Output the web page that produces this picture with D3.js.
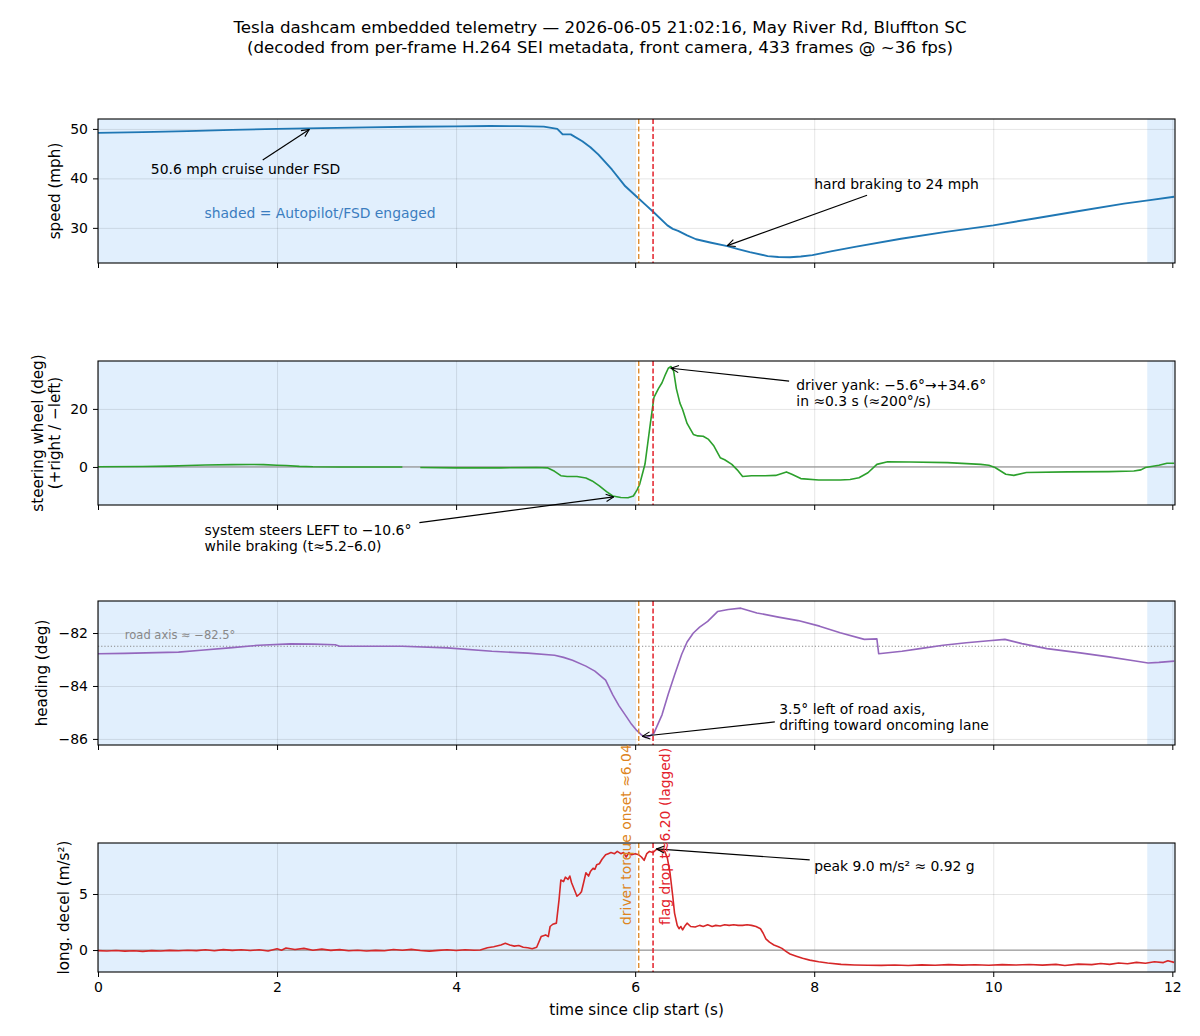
<!DOCTYPE html>
<html>
<head>
<meta charset="utf-8">
<script src="https://cdn.jsdelivr.net/npm/d3@7/dist/d3.min.js"></script>
<style>
  body { margin: 0; background: #fff; }
  svg { font-family: "DejaVu Sans", sans-serif; }
</style>
</head>
<body>
<div id="chart"></div>
<script>
// ---- data ----
var xTicks = [0, 2, 4, 6, 8, 10, 12];

// [time (s), speed (mph)]
var speedData = [
  [0, 49.2], [0.5, 49.35], [1.0, 49.55], [1.5, 49.8], [2.0, 50.0], [2.5, 50.15],
  [3.0, 50.3], [3.5, 50.42], [4.0, 50.5], [4.38, 50.6], [4.7, 50.55], [4.98, 50.45],
  [5.13, 50.0], [5.19, 48.9], [5.28, 48.9], [5.41, 47.5], [5.5, 46.3], [5.59, 44.8],
  [5.74, 41.8], [5.89, 38.4], [6.03, 36.1], [6.12, 34.6], [6.21, 33.1], [6.36, 30.5],
  [6.42, 29.8], [6.48, 29.4], [6.58, 28.5], [6.68, 27.7], [6.85, 27.0], [7.03, 26.3],
  [7.15, 25.7], [7.28, 25.1], [7.48, 24.3], [7.6, 24.1], [7.73, 24.05], [7.85, 24.2],
  [7.98, 24.5], [8.2, 25.3], [8.47, 26.2], [8.97, 27.8], [9.47, 29.2], [10.0, 30.5],
  [10.46, 31.9], [10.96, 33.4], [11.46, 34.9], [11.75, 35.6], [12.02, 36.3]
];

// [time, steering wheel angle (deg)] -- null = dropped frames
var steerData = [
  [0, 0.1], [0.5, 0.15], [0.8, 0.3], [1.0, 0.5], [1.2, 0.7], [1.5, 0.8], [1.7, 0.85],
  [1.85, 0.8], [2.0, 0.6], [2.1, 0.5], [2.25, 0.2], [2.4, 0.05], [2.7, 0], [3.0, 0],
  [3.4, 0], [3.5, null], [3.6, -0.2], [4.0, -0.3], [4.5, -0.3], [4.9, -0.2], [5.02, -0.3],
  [5.1, -1.5], [5.17, -3.0], [5.24, -3.3], [5.35, -3.3], [5.45, -3.8], [5.52, -4.8],
  [5.6, -6.5], [5.68, -8.5], [5.75, -10.0], [5.84, -10.5], [5.92, -10.6], [5.98, -10.0],
  [6.02, -8.0], [6.05, -6.0], [6.08, -2.5], [6.11, 1.0], [6.14, 8], [6.17, 15], [6.21, 24],
  [6.26, 27], [6.3, 29], [6.34, 32], [6.37, 34], [6.4, 34.6], [6.43, 33], [6.46, 27],
  [6.5, 22], [6.53, 19.8], [6.58, 15], [6.65, 11.2], [6.7, 10.7], [6.76, 10.6], [6.82, 9.5],
  [6.88, 7.2], [6.95, 3.2], [7.0, 2.5], [7.08, 0.9], [7.14, -1], [7.2, -3.3], [7.3, -3.0],
  [7.45, -3.0], [7.57, -2.9], [7.63, -2.3], [7.69, -1.7], [7.75, -2.5], [7.85, -4.0],
  [8.05, -4.5], [8.29, -4.5], [8.4, -4.3], [8.5, -3.7], [8.6, -2], [8.7, 0.9], [8.82, 1.8],
  [9.07, 1.7], [9.49, 1.5], [9.86, 0.9], [9.95, 0.6], [10.02, -0.2], [10.14, -2.5],
  [10.23, -2.9], [10.37, -1.9], [10.83, -1.7], [11.29, -1.6], [11.57, -1.4], [11.65, -1.0],
  [11.7, -0.2], [11.85, 0.6], [11.94, 1.3], [12.02, 1.3]
];

// [time, heading (deg)]
var headingData = [
  [0, -82.78], [0.3, -82.77], [0.65, -82.74], [0.9, -82.72], [1.15, -82.65], [1.5, -82.55],
  [1.8, -82.46], [2.15, -82.41], [2.4, -82.42], [2.65, -82.44], [2.7, -82.5], [3.0, -82.5],
  [3.4, -82.5], [3.9, -82.56], [4.4, -82.69], [4.8, -82.76], [5.1, -82.84], [5.2, -82.92],
  [5.3, -83.03], [5.45, -83.25], [5.55, -83.44], [5.67, -83.78], [5.75, -84.34],
  [5.82, -84.75], [5.9, -85.15], [5.96, -85.45], [6.02, -85.69], [6.07, -85.85],
  [6.12, -85.95], [6.16, -85.9], [6.21, -85.78], [6.3, -85.09], [6.37, -84.3],
  [6.44, -83.59], [6.52, -82.8], [6.58, -82.34], [6.65, -82.0], [6.72, -81.78],
  [6.81, -81.56], [6.92, -81.19], [7.04, -81.11], [7.18, -81.06], [7.36, -81.24],
  [7.6, -81.4], [7.82, -81.53], [8.06, -81.74], [8.29, -81.99], [8.56, -82.24],
  [8.7, -82.22], [8.72, -82.78], [8.98, -82.69], [9.2, -82.58], [9.44, -82.46],
  [9.7, -82.37], [9.95, -82.29], [10.13, -82.24], [10.32, -82.4], [10.6, -82.59],
  [10.97, -82.75], [11.29, -82.9], [11.57, -83.05], [11.73, -83.13], [11.85, -83.11],
  [12.02, -83.06]
];

// [time, longitudinal deceleration (m/s^2)]
var decelData = [
  [0, -0.05], [0.1, -0.08], [0.2, -0.04], [0.3, -0.1], [0.4, -0.06], [0.5, -0.12],
  [0.6, -0.05], [0.7, -0.09], [0.8, -0.03], [0.9, -0.07], [1.0, -0.02], [1.1, -0.05],
  [1.2, 0.02], [1.3, -0.06], [1.4, 0.04], [1.5, -0.03], [1.6, 0.03], [1.7, -0.04],
  [1.8, 0.02], [1.9, -0.08], [2.0, 0.12], [2.05, -0.02], [2.1, 0.18], [2.2, 0.05],
  [2.3, 0.15], [2.4, -0.02], [2.5, 0.08], [2.6, -0.03], [2.7, 0.04], [2.8, -0.06],
  [2.9, -0.02], [3.0, -0.08], [3.1, -0.03], [3.2, -0.07], [3.3, 0.05], [3.4, -0.02],
  [3.5, 0.06], [3.6, -0.04], [3.7, -0.1], [3.8, -0.03], [3.9, 0.02], [4.0, -0.04],
  [4.1, 0.03], [4.2, -0.02], [4.27, 0.0], [4.35, 0.2], [4.42, 0.3], [4.5, 0.45],
  [4.55, 0.6], [4.6, 0.45], [4.65, 0.35], [4.7, 0.4], [4.75, 0.25], [4.8, 0.2],
  [4.85, 0.12], [4.9, 0.25], [4.95, 1.2], [5.0, 1.35], [5.03, 1.2], [5.05, 2.1],
  [5.08, 2.3], [5.12, 2.4], [5.15, 4.5], [5.17, 6.25], [5.2, 6.1], [5.22, 6.5],
  [5.25, 6.3], [5.27, 6.6], [5.29, 6.0], [5.32, 5.4], [5.35, 4.8], [5.38, 5.0],
  [5.4, 5.2], [5.43, 6.2], [5.45, 6.9], [5.48, 6.6], [5.5, 7.0], [5.53, 7.3],
  [5.55, 7.2], [5.57, 7.6], [5.6, 7.7], [5.63, 8.1], [5.67, 8.5], [5.7, 8.6],
  [5.73, 8.7], [5.77, 8.6], [5.8, 8.8], [5.84, 8.6], [5.87, 8.7], [5.9, 8.3],
  [5.93, 8.7], [5.96, 8.5], [6.0, 8.6], [6.04, 8.5], [6.07, 8.3], [6.1, 8.0],
  [6.13, 8.6], [6.16, 8.8], [6.2, 8.7], [6.24, 9.0], [6.28, 8.9], [6.33, 8.8],
  [6.36, 8.2], [6.39, 6.85], [6.42, 4.8], [6.44, 3.3], [6.47, 2.2], [6.49, 1.9],
  [6.51, 2.1], [6.53, 1.8], [6.56, 2.2], [6.58, 2.4], [6.62, 2.1], [6.67, 2.05],
  [6.72, 2.2], [6.76, 2.1], [6.81, 2.25], [6.86, 2.1], [6.9, 2.2], [6.95, 2.15],
  [7.0, 2.25], [7.05, 2.2], [7.1, 2.25], [7.15, 2.2], [7.2, 2.2], [7.25, 2.25],
  [7.3, 2.2], [7.35, 2.1], [7.4, 1.9], [7.43, 1.5], [7.46, 1.0], [7.5, 0.7],
  [7.55, 0.45], [7.6, 0.3], [7.64, 0.15], [7.68, -0.1], [7.73, -0.35], [7.8, -0.55],
  [7.87, -0.74], [7.95, -0.9], [8.05, -1.04], [8.15, -1.15], [8.3, -1.28], [8.45, -1.33],
  [8.6, -1.36], [8.75, -1.37], [8.9, -1.33], [9.05, -1.38], [9.2, -1.32], [9.35, -1.36],
  [9.5, -1.3], [9.65, -1.35], [9.8, -1.31], [9.95, -1.36], [10.1, -1.3], [10.25, -1.34],
  [10.4, -1.29], [10.55, -1.35], [10.7, -1.28], [10.8, -1.38], [10.95, -1.26], [11.1, -1.3],
  [11.2, -1.2], [11.3, -1.28], [11.4, -1.15], [11.5, -1.22], [11.6, -1.1], [11.7, -1.18],
  [11.8, -1.05], [11.9, -1.12], [11.95, -0.95], [12.02, -1.1]
];

// Autopilot/FSD engaged spans (s)
var fsdSpans = [[0, 6.0], [11.72, 12.03]];
var driverOnset = 6.04;
var flagDrop = 6.20;
var roadAxis = -82.5;

// ---- layout ----
var W = 1200, H = 1036;
var left = 98, right = 1175;
var tickFont = 14, labelFont = 15.2, noteFont = 13.9;

var panels = [
  { data: speedData, color: "#1f77b4", top: 119, bottom: 263, domain: [22.9, 52.0],
    ticks: [30, 40, 50], label: ["speed (mph)"], labelX: 55 },
  { data: steerData, color: "#2ca02c", top: 361, bottom: 505, domain: [-13.1, 36.5],
    ticks: [0, 20], label: ["steering wheel (deg)", "(+right / \u2212left)"], labelX: 46, zero: true },
  { data: headingData, color: "#9467bd", top: 601, bottom: 745, domain: [-86.23, -80.79],
    ticks: [-86, -84, -82], label: ["heading (deg)"], labelX: 42 },
  { data: decelData, color: "#d62728", top: 843, bottom: 972, domain: [-1.96, 9.55],
    ticks: [0, 5], label: ["long. decel (m/s\u00b2)"], labelX: 64, zero: true }
];

var svg = d3.select("#chart").append("svg")
  .attr("width", W)
  .attr("height", H);

// arrowhead like matplotlib "->"
svg.append("defs").append("marker")
  .attr("id", "arrow")
  .attr("viewBox", "0 0 10 10")
  .attr("refX", 9.5).attr("refY", 5)
  .attr("markerWidth", 9).attr("markerHeight", 9)
  .attr("markerUnits", "userSpaceOnUse")
  .attr("orient", "auto")
  .append("path")
  .attr("d", "M1,1 L9.5,5 L1,9")
  .attr("fill", "none")
  .attr("stroke", "#000")
  .attr("stroke-width", 1.2);

// title
svg.append("text")
  .attr("x", 600).attr("y", 33)
  .attr("text-anchor", "middle")
  .attr("font-size", 16.7)
  .text("Tesla dashcam embedded telemetry \u2014 2026-06-05 21:02:16, May River Rd, Bluffton SC");
svg.append("text")
  .attr("x", 600).attr("y", 53)
  .attr("text-anchor", "middle")
  .attr("font-size", 16.7)
  .text("(decoded from per-frame H.264 SEI metadata, front camera, 433 frames @ ~36 fps)");

var x = d3.scaleLinear().domain([0, 12.03]).range([left, right]);

panels.forEach(function(p, i) {
  var y = d3.scaleLinear().domain(p.domain).range([p.bottom, p.top]);
  p.y = y;
  var g = svg.append("g");

  g.append("clipPath").attr("id", "clip" + i)
    .append("rect")
    .attr("x", left).attr("y", p.top)
    .attr("width", right - left).attr("height", p.bottom - p.top);

  // shaded FSD spans
  g.selectAll("rect.fsd")
    .data(fsdSpans)
    .join("rect")
    .attr("class", "fsd")
    .attr("x", d => x(d[0]))
    .attr("width", d => x(Math.min(d[1], 12.03)) - x(d[0]))
    .attr("y", p.top)
    .attr("height", p.bottom - p.top)
    .attr("fill", "#e1effd");

  // grid
  g.append("g")
    .attr("transform", "translate(0," + p.bottom + ")")
    .call(d3.axisBottom(x).tickValues(xTicks).tickSize(-(p.bottom - p.top)).tickFormat(""))
    .call(a => a.select(".domain").remove())
    .selectAll("line").attr("stroke", "#000").attr("stroke-opacity", 0.1);
  g.append("g")
    .attr("transform", "translate(" + left + ",0)")
    .call(d3.axisLeft(y).tickValues(p.ticks).tickSize(-(right - left)).tickFormat(""))
    .call(a => a.select(".domain").remove())
    .selectAll("line").attr("stroke", "#000").attr("stroke-opacity", 0.1);

  if (p.zero) {
    g.append("line")
      .attr("x1", left).attr("x2", right)
      .attr("y1", y(0)).attr("y2", y(0))
      .attr("stroke", "#999").attr("stroke-width", 1.2);
  }
  if (i === 2) {
    g.append("line")
      .attr("x1", left).attr("x2", right)
      .attr("y1", y(roadAxis)).attr("y2", y(roadAxis))
      .attr("stroke", "#888").attr("stroke-width", 1)
      .attr("stroke-dasharray", "1.2,2");
    g.append("text")
      .attr("x", x(0.3)).attr("y", y(-82.08))
      .attr("dominant-baseline", "central")
      .attr("font-size", 11.5)
      .attr("fill", "#888")
      .text("road axis \u2248 \u221282.5\u00b0");
  }

  // series
  var line = d3.line()
    .defined(d => d[1] !== null)
    .x(d => x(d[0]))
    .y(d => y(d[1]));
  g.append("path")
    .datum(p.data)
    .attr("clip-path", "url(#clip" + i + ")")
    .attr("fill", "none")
    .attr("stroke", p.color)
    .attr("stroke-width", i === 0 ? 1.9 : 1.6)
    .attr("stroke-linejoin", "round")
    .attr("d", line);

  // event markers
  g.append("line")
    .attr("x1", x(driverOnset)).attr("x2", x(driverOnset))
    .attr("y1", p.top).attr("y2", p.bottom)
    .attr("stroke", "#dd8420").attr("stroke-width", 1.3)
    .attr("stroke-dasharray", "5,2.5");
  g.append("line")
    .attr("x1", x(flagDrop)).attr("x2", x(flagDrop))
    .attr("y1", p.top).attr("y2", p.bottom)
    .attr("stroke", "#e3212b").attr("stroke-width", 1.5)
    .attr("stroke-dasharray", "5,2.5");

  // frame
  g.append("rect")
    .attr("x", left).attr("y", p.top)
    .attr("width", right - left).attr("height", p.bottom - p.top)
    .attr("fill", "none").attr("stroke", "#000").attr("stroke-width", 1.1);

  // axes
  var xa = g.append("g")
    .attr("transform", "translate(0," + p.bottom + ")")
    .call(d3.axisBottom(x).tickValues(xTicks).tickSize(5).tickPadding(5)
      .tickFormat(i === panels.length - 1 ? d3.format("d") : ""));
  var ya = g.append("g")
    .attr("transform", "translate(" + left + ",0)")
    .call(d3.axisLeft(y).tickValues(p.ticks).tickSize(5).tickPadding(5)
      .tickFormat(d => d3.format("d")(d).replace("-", "\u2212")));
  [xa, ya].forEach(function(a) {
    a.select(".domain").remove();
    a.selectAll("text").attr("font-size", tickFont).attr("fill", "#000")
      .attr("font-family", "DejaVu Sans, sans-serif");
    a.selectAll("line").attr("stroke", "#000").attr("stroke-width", 1);
  });

  // y label
  var cy = (p.top + p.bottom) / 2;
  var lab = g.append("text")
    .attr("transform", "translate(" + p.labelX + "," + cy + ") rotate(-90)")
    .attr("text-anchor", "middle")
    .attr("font-size", labelFont);
  p.label.forEach(function(s, k) {
    lab.append("tspan")
      .attr("x", 0)
      .attr("dy", k === 0 ? (p.label.length > 1 ? "-0.2em" : "0.35em") : "1.1em")
      .text(s);
  });
});

// x label
svg.append("text")
  .attr("x", (left + right) / 2).attr("y", 1015)
  .attr("text-anchor", "middle")
  .attr("font-size", labelFont)
  .text("time since clip start (s)");

// ---- annotations (data coords per panel) ----
var notes = [
  { p: 0, lines: ["50.6 mph cruise under FSD"], tx: 0.59, ty: 41.9, from: [1.84, 43.7], to: [2.36, 49.9] },
  { p: 0, lines: ["hard braking to 24 mph"], tx: 8.0, ty: 38.9, from: [8.59, 36.6], to: [7.03, 26.4] },
  { p: 1, lines: ["driver yank: \u22125.6\u00b0\u2192+34.6\u00b0", "in \u22480.3 s (\u2248200\u00b0/s)"],
    tx: 7.8, ty: 28.2, from: [7.72, 29.6], to: [6.4, 34.0] },
  { p: 1, lines: ["system steers LEFT to \u221210.6\u00b0", "while braking (t\u22485.2\u20136.0)"],
    tx: 1.19, ty: -21.6, from: [3.59, -19.2], to: [5.76, -10.3] },
  { p: 2, lines: ["3.5\u00b0 left of road axis,", "drifting toward oncoming lane"],
    tx: 7.61, ty: -84.87, from: [7.56, -85.36], to: [6.08, -85.9] },
  { p: 3, lines: ["peak 9.0 m/s\u00b2 \u2248 0.92 g"], tx: 8.0, ty: 7.5, from: [7.95, 8.04], to: [6.24, 9.02] }
];

notes.forEach(function(n) {
  var y = panels[n.p].y;
  svg.append("line")
    .attr("x1", x(n.from[0])).attr("y1", y(n.from[1]))
    .attr("x2", x(n.to[0])).attr("y2", y(n.to[1]))
    .attr("stroke", "#000").attr("stroke-width", 1.2)
    .attr("marker-end", "url(#arrow)");
  var t = svg.append("text")
    .attr("x", x(n.tx)).attr("y", y(n.ty))
    .attr("font-size", noteFont)
    .attr("dominant-baseline", "central");
  n.lines.forEach(function(s, k) {
    t.append("tspan").attr("x", x(n.tx)).attr("dy", k === 0 ? 0 : "1.15em").text(s);
  });
});

svg.append("text")
  .attr("x", x(1.19)).attr("y", panels[0].y(33.0))
  .attr("dominant-baseline", "central")
  .attr("font-size", noteFont)
  .attr("fill", "#3b7dc0")
  .text("shaded = Autopilot/FSD engaged");

// rotated event labels between heading and decel panels
svg.append("text")
  .attr("transform", "translate(" + (x(driverOnset) - 8) + ",925) rotate(-90)")
  .attr("font-size", noteFont)
  .attr("fill", "#dd8420")
  .text("driver torque onset \u22486.04");
svg.append("text")
  .attr("transform", "translate(" + (x(flagDrop) + 17) + ",925) rotate(-90)")
  .attr("font-size", noteFont)
  .attr("fill", "#e3212b")
  .text("flag drop t\u22486.20 (lagged)");
</script>
</body>
</html>
